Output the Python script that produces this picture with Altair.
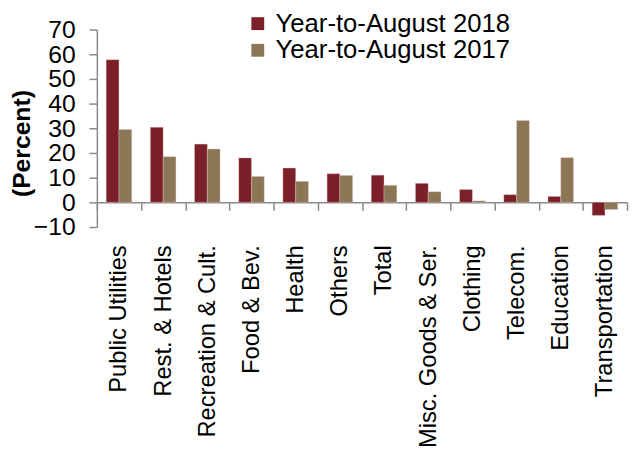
import altair as alt
import pandas as pd

categories = ["Public Utilities", "Rest. & Hotels", "Recreation & Cult.", "Food & Bev.",
              "Health", "Others", "Total", "Misc. Goods & Ser.", "Clothing",
              "Telecom.", "Education", "Transportation"]
series_names = ["Year-to-August 2018", "Year-to-August 2017"]
values_2018 = [57.8, 30.4, 23.6, 18.0, 13.9, 11.6, 11.0, 7.7, 5.2, 3.1, 2.4, -5.3]
values_2017 = [29.5, 18.5, 21.6, 10.5, 8.5, 10.9, 6.9, 4.3, 0.6, 33.2, 18.1, -2.9]
y_ticks = [-10, 0, 10, 20, 30, 40, 50, 60, 70]
colors = ["#7B1F28", "#8B7755"]

rows = []
for c, a, b in zip(categories, values_2018, values_2017):
    rows.append({"cat": c, "series": series_names[0], "value": a})
    rows.append({"cat": c, "series": series_names[1], "value": b})
df = pd.DataFrame(rows)

FONT = "Liberation Sans"
GREY = "#8a8a8a"

chart = alt.Chart(df).mark_bar(stroke="#e8c8c8", strokeWidth=0.6, strokeOpacity=0.6).encode(
    x=alt.X("cat:N", sort=categories, title=None,
            scale=alt.Scale(paddingInner=0, paddingOuter=0),
            axis=alt.Axis(labelAngle=-90, labelFont=FONT, labelFontSize=24, labelColor="black",
                          offset=-25, tickBand="extent", tickSize=8, tickColor=GREY,
                          domainColor=GREY, domainWidth=1.5, tickWidth=1.5,
                          labelPadding=35, labelLimit=400)),
    xOffset=alt.XOffset("series:N", sort=series_names,
                        scale=alt.Scale(paddingInner=0, paddingOuter=0.73)),
    y=alt.Y("value:Q", title="(Percent)",
            scale=alt.Scale(domain=[-10, 70], nice=False),
            axis=alt.Axis(values=y_ticks, labelFont=FONT, labelFontSize=25, labelColor="black",
                          tickSize=8, tickColor=GREY, domainColor=GREY, domainWidth=1.5,
                          tickWidth=1.5, labelPadding=14, grid=False,
                          titleFont=FONT, titleFontSize=25, titleFontWeight="bold",
                          titleColor="black", titleAngle=270, titleBaseline="bottom",
                          titleX=-63, titleY=115)),
    color=alt.Color("series:N", sort=series_names,
                    scale=alt.Scale(domain=series_names, range=colors),
                    legend=alt.Legend(title=None, orient="none", legendX=150, legendY=-19,
                                      padding=0, symbolType="square", symbolSize=169,
                                      symbolStrokeWidth=0,
                                      labelFont=FONT, labelFontSize=26, labelColor="black",
                                      labelOffset=5, rowPadding=1, labelLimit=400)),
).properties(
    width=537, height=200,
    autosize=alt.AutoSizeParams(type="none"),
    padding={"left": 90, "top": 19, "right": 2, "bottom": 222},
).configure_view(stroke=None)

chart.save("out.html", embed_options={"renderer": "svg", "actions": False})
